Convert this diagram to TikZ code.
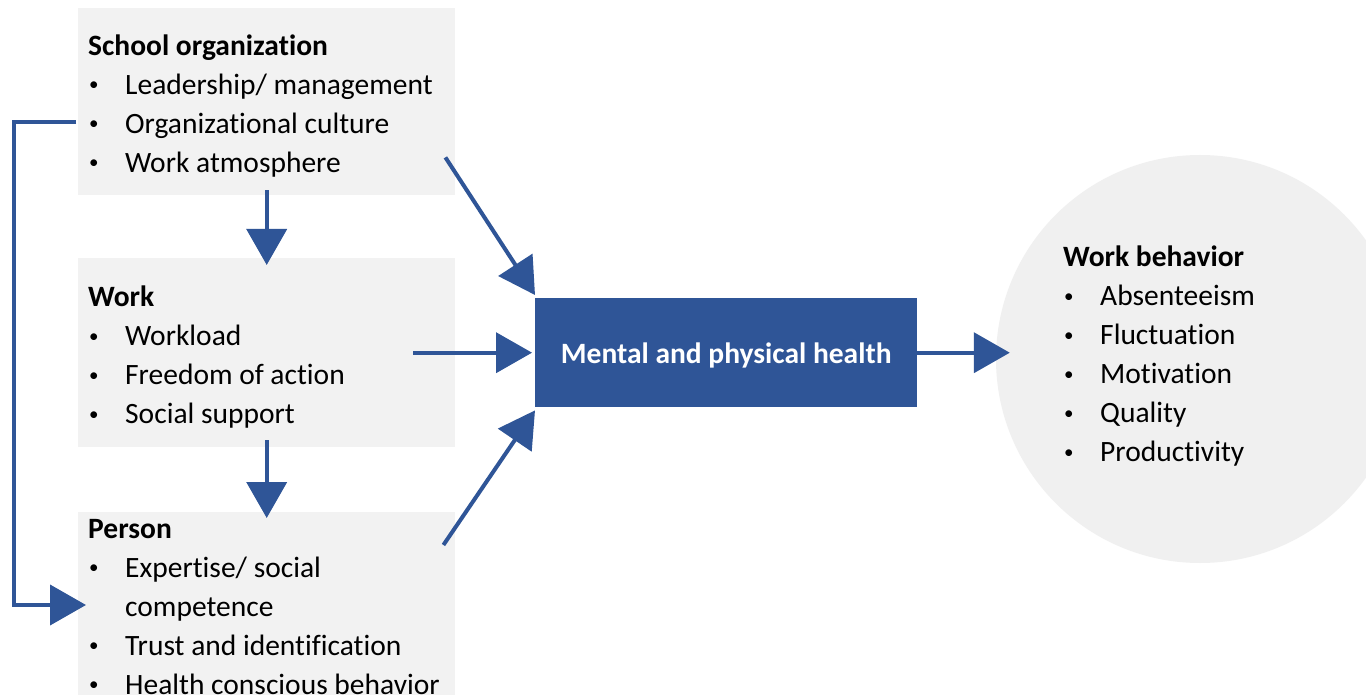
\documentclass[tikz,border=0pt]{standalone}
\usepackage{fontspec}
\setmainfont{Carlito}[RawFeature={-liga}]
\usetikzlibrary{arrows.meta,calc}
\definecolor{myblue}{HTML}{2F5597}
\definecolor{boxgray}{HTML}{F2F2F2}
\definecolor{circgray}{HTML}{F0F0F0}
\newcommand{\itm}[1]{\makebox[37pt][l]{\hspace{1pt}\raisebox{3.8pt}{\fontsize{19}{19}\selectfont\textbullet}}#1}
\begin{document}
\begin{tikzpicture}[x=1pt,y=-1pt,
  gbox/.style={fill=boxgray, draw=none, anchor=north west, inner sep=0},
  txt/.style={anchor=north west, inner sep=0, align=left, font=\fontsize{29.5}{39}\selectfont},
  arr/.style={draw=myblue, line width=4pt, -{Triangle[length=36pt,width=40pt]}}]
\clip (0,0) rectangle (1366,695);
\fill[white] (0,0) rectangle (1366,695);
% boxes
\node[gbox, minimum width=377pt, minimum height=187pt] (org) at (78,8) {};
\node[gbox, minimum width=377pt, minimum height=189pt] (work) at (78,258) {};
\node[gbox, minimum width=377pt, minimum height=200pt] (pers) at (78,512) {};
\node[circle, fill=circgray, minimum size=408pt, inner sep=0] (wb) at (1200,359) {};
\node[fill=myblue, minimum width=382pt, minimum height=109pt, anchor=north west, inner sep=0] (mph) at (535,298) {};
\node[text=white, font=\fontsize{29.5}{39}\selectfont\bfseries, inner sep=0] (mpht) at ($(mph.center)+(0,3)$) {Mental and physical health};
% texts
\node[txt] (orgt) at (88,34.5) {\textbf{School organization}\\\itm{Leadership/ management}\\\itm{Organizational culture}\\\itm{Work atmosphere}};
\node[txt] (workt) at (88,286) {\textbf{Work}\\\itm{Workload}\\\itm{Freedom of action}\\\itm{Social support}};
\node[txt] (perst) at (88,519) {\textbf{Person}\\\itm{Expertise/ social}\\\hspace*{37pt}competence\\\itm{Trust and identification}\\\itm{Health conscious behavior}};
\node[txt] (wbt) at (1063,246) {\textbf{Work behavior}\\\itm{Absenteeism}\\\itm{Fluctuation}\\\itm{Motivation}\\\itm{Quality}\\\itm{Productivity}};
% arrows
\draw[arr] ($(org.south)+(0,-5)$) -- ($(work.north)+(0,7)$);
\draw[arr] ($(work.south)+(0,-7)$) -- ($(pers.north)+(0,6)$);
\draw[arr] ($(work.east)+(-42,0)$) -- ($(mph.west)+(-3,0)$);
\draw[arr] ($(org.south east)+(-10,-38)$) -- ($(mph.north west)+(0,-3)$);
\draw[arr] ($(pers.north east)+(-12,33)$) -- ($(mph.south west)+(0,3)$);
\draw[arr] (mph.east) -- ($(mph.east -| wb.west)+(14,0)$);
\coordinate (fbs) at (76,122);
\coordinate (fbc) at (14,122);
\coordinate (fbe) at (86,605);
\draw[arr] (fbs) -- (fbc) |- (fbe);
\end{tikzpicture}
\end{document}
